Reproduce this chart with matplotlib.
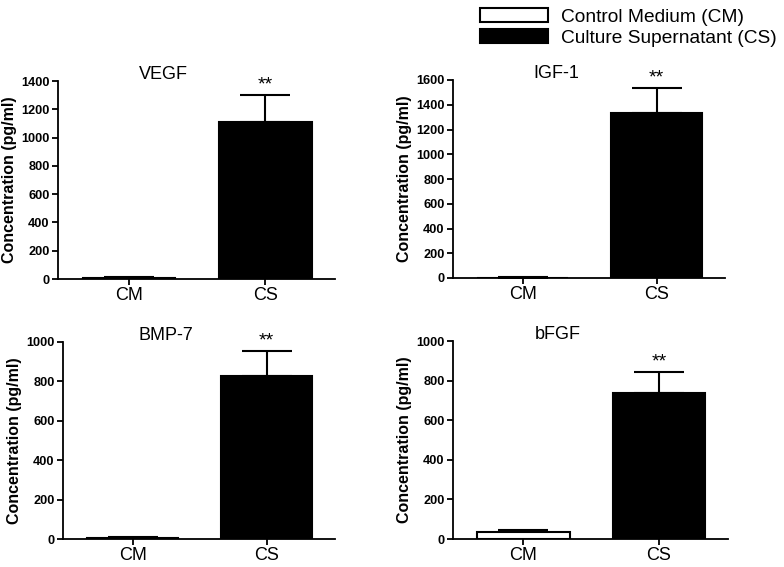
import matplotlib
matplotlib.use("Agg")
import matplotlib.pyplot as plt

plt.rcParams['font.family'] = ['Liberation Sans', 'DejaVu Sans']

groups = ["CM", "CS"]
series_names = ["Control Medium (CM)", "Culture Supernatant (CS)"]
titles = ["VEGF", "IGF-1", "BMP-7", "bFGF"]
means = {
    "VEGF": [5, 1110],
    "IGF-1": [3, 1330],
    "BMP-7": [5, 826],
    "bFGF": [37, 739],
}
errs = {
    "VEGF": [8, 190],
    "IGF-1": [2, 208],
    "BMP-7": [7, 127],
    "bFGF": [7, 106],
}
ymax = {"VEGF": 1400, "IGF-1": 1600, "BMP-7": 1000, "bFGF": 1000}
ystep = {"VEGF": 200, "IGF-1": 200, "BMP-7": 200, "bFGF": 200}
signif = ["", "**"]

W, H = 784, 567
fig = plt.figure(figsize=(W / 100, H / 100), dpi=100)

boxes = {
    "VEGF": (58, 335, 81, 279),
    "IGF-1": (453, 725, 80, 278),
    "BMP-7": (63, 335, 342, 539),
    "bFGF": (453, 728, 341, 539),
}
colors = ["white", "black"]

handles = None
for t in titles:
    l, r, tp, b = boxes[t]
    ax = fig.add_axes([l / W, 1 - b / H, (r - l) / W, (b - tp) / H])
    xs = list(range(len(groups)))
    bars = ax.bar(xs, means[t], width=0.68, color=colors, edgecolor="black",
                  linewidth=1.5, zorder=2)
    if handles is None:
        handles = list(bars)
    ax.errorbar(xs, means[t], yerr=[[0] * len(xs), errs[t]], fmt="none",
                ecolor="black", elinewidth=1.5, capsize=18, capthick=1.5, zorder=1)
    for x, m, e, s in zip(xs, means[t], errs[t], signif):
        if s:
            ax.annotate(s, (x, m + e), xytext=(0, 1), textcoords="offset points",
                        ha="center", va="bottom", fontsize=14)
    ax.set_xlim(-0.52, 1.51)
    ax.set_ylim(0, ymax[t])
    ax.set_yticks(range(0, ymax[t] + 1, ystep[t]))
    ax.set_xticks(xs)
    ax.set_xticklabels(groups, fontsize=13)
    for lab in ax.get_yticklabels():
        lab.set_fontweight("bold")
        lab.set_fontsize(9.2)
    ax.spines["top"].set_visible(False)
    ax.spines["right"].set_visible(False)
    ax.spines["left"].set_linewidth(1.3)
    ax.spines["bottom"].set_linewidth(1.3)
    ax.tick_params(axis="both", direction="out", length=4, width=1.3, pad=2)
    ax.set_ylabel("Concentration (pg/ml)", fontsize=11.5, fontweight="bold",
                  labelpad=3)
    ax.annotate(t, (0.25, 1.0), xycoords=ax.get_xaxis_transform(),
                xytext=(0, 5), textcoords="offset points",
                ha="center", va="center", fontsize=13)

fig.legend(handles, series_names, loc="upper left",
           bbox_to_anchor=(480 / W, 1 - 8 / H), frameon=False,
           fontsize=13.8, handlelength=3.55, handleheight=0.72,
           handletextpad=0.7, labelspacing=0.2, borderpad=0, borderaxespad=0)

fig.savefig("out.png", dpi=100)
